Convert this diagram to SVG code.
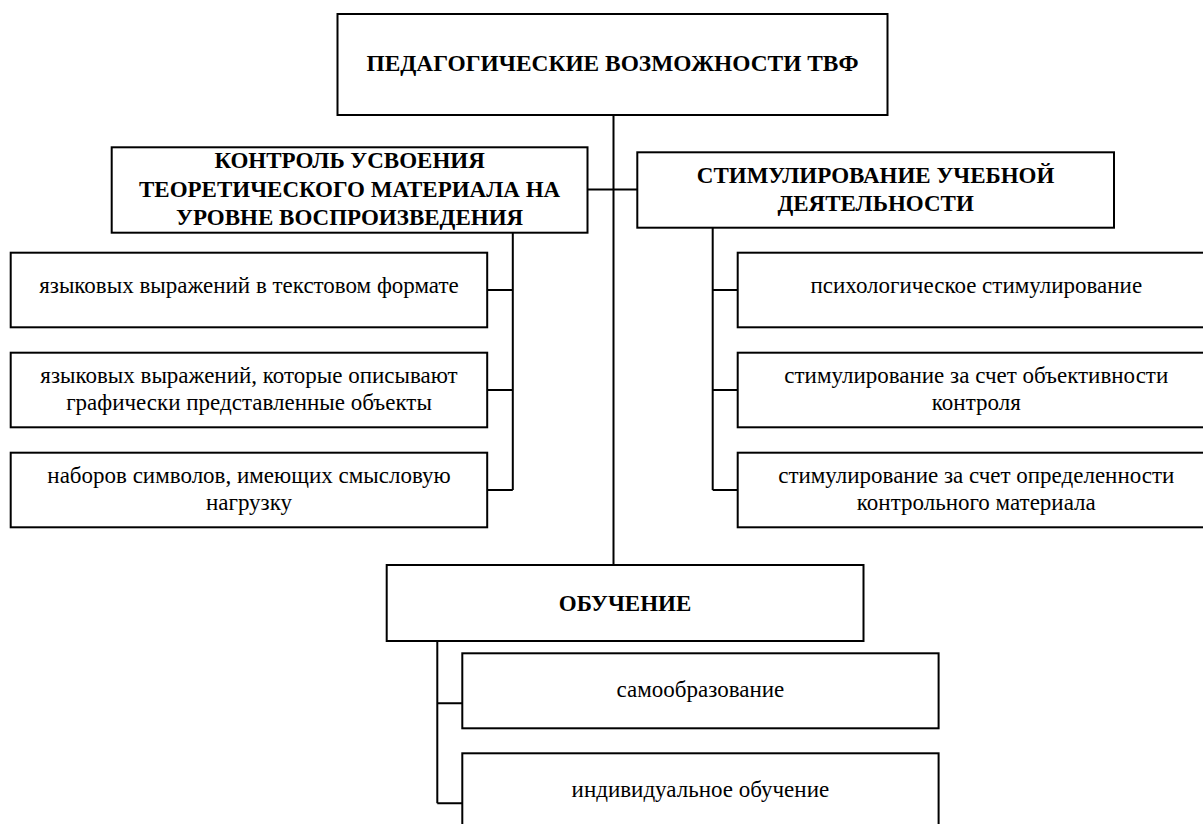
<svg xmlns="http://www.w3.org/2000/svg" width="1203" height="824" viewBox="0 0 1203 824">
<style>
.box{fill:#fff;stroke:#000;stroke-width:2}
.c{fill:none;stroke:#000;stroke-width:2}
</style>
<rect width="1203" height="824" fill="#fff"/>
<g id="connectors">
<path class="c" d="M613.5 115V565"/>
<path class="c" d="M587.5 189.5H637.3"/>
<path class="c" d="M512.8 232.7V490M487.2 290H512.8M487.2 390H512.8M487.2 490H512.8"/>
<path class="c" d="M712.7 227.7V490M712.7 290H737.7M712.7 390H737.7M712.7 490H737.7"/>
<path class="c" d="M437.3 641V803.3M437.3 703.3H462.3M437.3 803.3H462.3"/>
</g>
<g font-family="Liberation Serif, serif" font-size="23" text-anchor="middle" fill="#000">
<g id="root">
<rect class="box" x="337.5" y="14" width="550" height="101"/>
<text font-weight="bold" font-size="23.4" x="612.5" y="70.7">ПЕДАГОГИЧЕСКИЕ ВОЗМОЖНОСТИ ТВФ</text>
</g>
<g id="control">
<rect class="box" x="111.7" y="147.3" width="475.8" height="85.4"/>
<text font-weight="bold" x="349.6" y="168.3">КОНТРОЛЬ УСВОЕНИЯ</text>
<text font-weight="bold" x="349.6" y="196.7">ТЕОРЕТИЧЕСКОГО МАТЕРИАЛА НА</text>
<text font-weight="bold" x="349.6" y="225">УРОВНЕ ВОСПРОИЗВЕДЕНИЯ</text>
</g>
<g id="stimul">
<rect class="box" x="637.3" y="152.3" width="476.7" height="75.4"/>
<text font-weight="bold" x="875.6" y="183">СТИМУЛИРОВАНИЕ УЧЕБНОЙ</text>
<text font-weight="bold" x="875.6" y="210.5">ДЕЯТЕЛЬНОСТИ</text>
</g>
<g id="left1">
<rect class="box" x="10.7" y="252.7" width="476.5" height="74.6"/>
<text x="249" y="293.3">языковых выражений в текстовом формате</text>
</g>
<g id="left2">
<rect class="box" x="10.7" y="352.7" width="476.5" height="74.6"/>
<text x="249" y="383.3">языковых выражений, которые описывают</text>
<text x="249" y="410">графически представленные объекты</text>
</g>
<g id="left3">
<rect class="box" x="10.7" y="452.7" width="476.5" height="74.6"/>
<text x="249" y="483.3">наборов символов, имеющих смысловую</text>
<text x="249" y="510">нагрузку</text>
</g>
<g id="right1">
<rect class="box" x="737.7" y="252.7" width="477.3" height="74.6"/>
<text x="976.3" y="293.3">психологическое стимулирование</text>
</g>
<g id="right2">
<rect class="box" x="737.7" y="352.7" width="477.3" height="74.6"/>
<text x="976.3" y="383.3">стимулирование за счет объективности</text>
<text x="976.3" y="410">контроля</text>
</g>
<g id="right3">
<rect class="box" x="737.7" y="452.7" width="477.3" height="74.6"/>
<text x="976.3" y="483.3">стимулирование за счет определенности</text>
<text x="976.3" y="510">контрольного материала</text>
</g>
<g id="learning">
<rect class="box" x="386.7" y="565" width="476.8" height="76"/>
<text font-weight="bold" x="625.1" y="610.5">ОБУЧЕНИЕ</text>
</g>
<g id="selfedu">
<rect class="box" x="462.3" y="653.3" width="476.3" height="75"/>
<text x="700.4" y="696.7">самообразование</text>
</g>
<g id="individual">
<rect class="box" x="462.3" y="753.3" width="476.3" height="80"/>
<text x="700.4" y="796.7">индивидуальное обучение</text>
</g>
</g>
</svg>
